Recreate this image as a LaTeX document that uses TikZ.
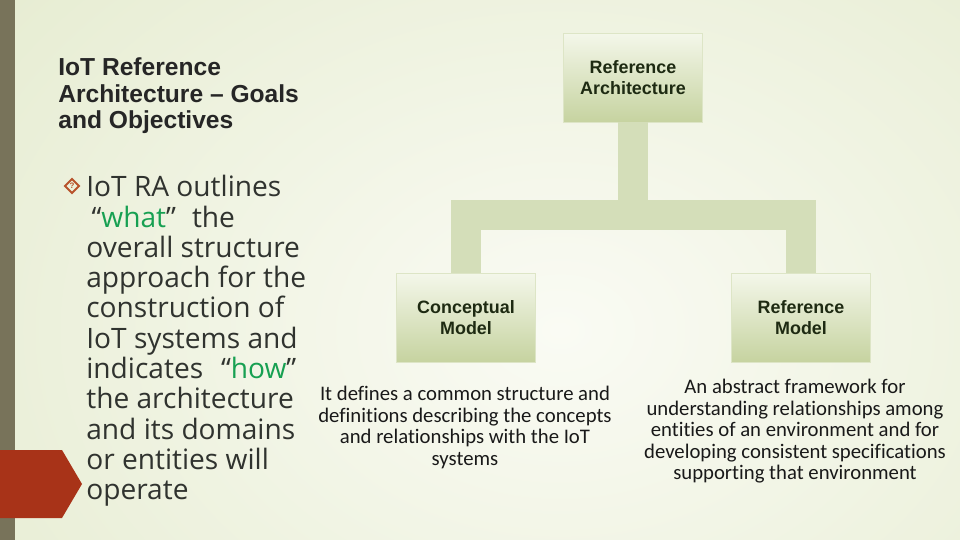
\documentclass[tikz,border=0pt]{standalone}
\usepackage{fontspec}
\setmainfont{Open Sans}
\newfontfamily\headfont{Liberation Sans}
\newfontfamily\notefont[Ligatures=NoCommon]{Carlito}
\usetikzlibrary{positioning,shapes.geometric}
\definecolor{slidebg}{HTML}{DFE7C5}
\definecolor{slidelight}{HTML}{FAFBF4}
\definecolor{sidebar}{HTML}{78735A}
\definecolor{brickred}{HTML}{A83318}
\definecolor{bodygray}{HTML}{30332F}
\definecolor{keygreen}{HTML}{17A052}
\definecolor{boxtop}{HTML}{F4F7EA}
\definecolor{boxbot}{HTML}{C6D3A0}
\definecolor{barfill}{HTML}{D4DEB9}
\definecolor{boxtext}{HTML}{1E2A12}
\definecolor{bulletc}{HTML}{B8532B}
\tikzset{
  % boxes of the tree
  rabox/.style={rectangle,top color=boxtop,bottom color=boxbot,draw=boxbot!60!white,
                line width=0.4pt,minimum width=2.78cm,minimum height=1.78cm,inner sep=0pt,
                align=center,text=boxtext,
                font=\headfont\bfseries\fontsize{10.2}{11.9}\selectfont},
  rabar/.style={draw=barfill,line width=0.6cm,line join=miter},
  % texts
  headtext/.style={align=left,inner sep=0pt,text=black!85,
                   font=\headfont\bfseries\fontsize{14}{15.3}\selectfont},
  bodytext/.style={align=left,inner sep=0pt,text=bodygray,
                   font=\fontsize{16}{17.25}\selectfont},
  notetext/.style={align=center,inner sep=0pt,text=black!90,
                   font=\notefont\fontsize{11.8}{12.2}\selectfont},
  bulletmark/.style={diamond,draw=bulletc,line width=1.1pt,minimum size=0.3cm,inner sep=0pt,
                     text=bulletc,font=\headfont\bfseries\fontsize{4.5}{5}\selectfont},
}
\begin{document}
\begin{tikzpicture}[x=0.02cm,y=-0.02cm]
\useasboundingbox (0,0) rectangle (960,540);
  % background
  \fill[slidebg] (0,0) rectangle (960,540);
  \begin{scope}
    \clip (0,0) rectangle (960,540);
    \shade[inner color=slidelight,outer color=slidebg] (-440,-420) rectangle (1560,1080);
  \end{scope}
  \fill[sidebar] (0,0) rectangle (15,540);
  \fill[brickred] (0,450) -- (62,450) -- (82,484) -- (62,518) -- (0,518) -- cycle;

  % left column
  \node[headtext,anchor=north west] (title) at (58,57)
    {IoT Reference\\Architecture – Goals\\and Objectives};
  \node[bulletmark] (bullet) at (72,186) {?};
  \node[bodytext,anchor=north west] (body) at (86,175)
    {IoT RA outlines\\
     \hspace*{3pt}“\textcolor{keygreen}{what}”\hspace{5pt} the\\
     overall structure\\
     approach for the\\
     construction of\\
     IoT systems and\\
     indicates\hspace{6pt} “\textcolor{keygreen}{how}”\\
     the architecture\\
     and its domains\\
     or entities will\\
     operate};

  % tree
  \node[rabox] (ra) at (633,77.5) {Reference\\Architecture};
  \node[rabox] (cm) at (466,317.5) {Conceptual\\Model};
  \node[rabox] (rm) at (801,317.5) {Reference\\Model};
  \draw[rabar] (ra.south) -- ++(0,93) -| (cm.north);
  \draw[rabar] (ra.south) -- ++(0,93) -| (rm.north);

  \node[notetext,anchor=north] (cm-note) at (465,386)
    {It defines a common structure and\\definitions describing the concepts\\
     and relationships with the IoT\\systems};
  \node[notetext,anchor=north] (rm-note) at (795,379)
    {An abstract framework for\\understanding relationships among\\
     entities of an environment and for\\developing consistent specifications\\
     supporting that environment};
\end{tikzpicture}
\end{document}
